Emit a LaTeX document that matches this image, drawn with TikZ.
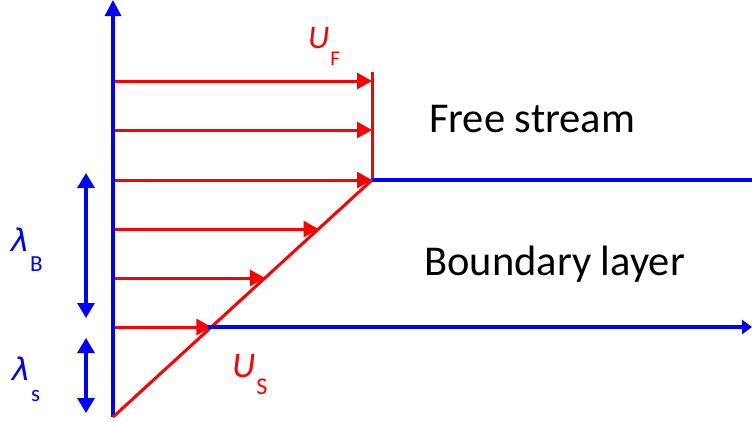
\documentclass[tikz,border=0pt]{standalone}
\usepackage{fontspec}
\setmainfont{Carlito}
\newfontfamily\lamfont{DejaVu Sans}
\usetikzlibrary{arrows.meta}
\definecolor{myblue}{RGB}{0,0,255}
\definecolor{myred}{RGB}{255,0,0}
\newcommand{\lam}{{\fontsize{31}{32}\lamfont\itshape λ}}
\begin{document}
\begin{tikzpicture}[x=1pt,y=-1pt,
  redline/.style={draw=myred,line width=3pt},
  redarrow/.style={redline,-{Triangle[length=15pt,width=16pt]}},
  blueline/.style={draw=myblue,line width=3.2pt},
  dimarrow/.style={draw=myblue,line width=3.2pt,{Triangle[length=15pt,width=17pt]}-{Triangle[length=15pt,width=17pt]}},
  redlabel/.style={text=myred,inner sep=0pt,anchor=base west},
  bluelabel/.style={text=myblue,inner sep=0pt,anchor=base west},
  bigtext/.style={text=black,inner sep=0pt,font=\fontsize{42.5}{48}\selectfont}]
\useasboundingbox (0,0) rectangle (752,421);
% key points
\coordinate (O) at (113,417);
\coordinate (top) at (113,0);
\coordinate (P) at (372,180);
\coordinate (Ptop) at (372,72);
\coordinate (R) at (752,180);
\coordinate (S) at (208,327);
\coordinate (Send) at (752,327);
% axis
\draw[blueline,-{Triangle[length=16pt,width=16pt]}] (O) -- (top);
% red profile
\draw[redline] (O) -- (P);
\draw[redline] (P) -- (Ptop);
\foreach \y/\x/\n in {81/372/a,130/372/b,180/372/c,229/318.5/d,278/264.9/e,327/211.4/f}{
  \coordinate (s\n) at (115,\y);
  \coordinate (e\n) at (\x,\y);
  \draw[redarrow] (s\n) -- (e\n);
}
% blue lines
\draw[blueline] (P) -- (R);
\draw[blueline,-{Triangle[length=10pt,width=14pt]}] (S) -- (Send);
% dimension arrows
\coordinate (bt) at (86,173);
\coordinate (bb) at (86,318);
\coordinate (st) at (86,338);
\coordinate (sb) at (86,413);
\draw[dimarrow] (bt) -- (bb);
\draw[dimarrow] (st) -- (sb);
% labels
\node[bluelabel] (lamB) at (11,251) {\lam\hspace{0.5pt}\raisebox{-20pt}{\fontsize{23}{24}\selectfont B}};
\node[bluelabel] (lamS) at (12,380) {\lam\hspace{0.5pt}\raisebox{-21pt}{\fontsize{23}{24}\selectfont s}};
\node[redlabel] (UF) at (308,48) {\fontsize{33}{40}\selectfont\textit{U}\hspace{1pt}\raisebox{-0.52em}{\fontsize{21}{24}\selectfont F}};
\node[redlabel] (US) at (232,377) {\fontsize{36}{40}\selectfont\textit{U}\hspace{1pt}\raisebox{-0.48em}{\fontsize{24}{24}\selectfont S}};
\node[bigtext,anchor=base west] (free) at (429,132) {Free stream};
\node[bigtext,anchor=base west] (bl) at (424,275) {Boundary layer};
\end{tikzpicture}
\end{document}
